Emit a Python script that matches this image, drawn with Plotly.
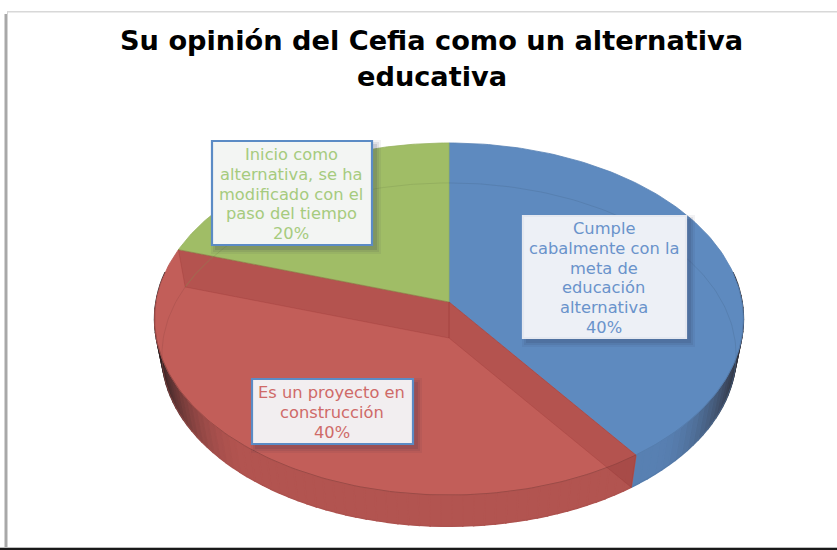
import numpy as np
import plotly.graph_objects as go

# Data
categories = ["Cumple<br>cabalmente con la<br>meta de<br>educación<br>alternativa",
              "Es un proyecto en<br>construcción",
              "Inicio como<br>alternativa, se ha<br>modificado con el<br>paso del tiempo"]
shares = [40, 40, 20]
title_text = "Su opinión del Cefia como un alternativa<br>educativa"

# Styles
face_colors = [(94, 138, 191), (194, 94, 89), (160, 189, 102)]
wall_colors = [(88, 128, 178), (178, 84, 80), (150, 175, 95)]
text_colors = ["#6A93CB", "#CF6A68", "#A6CB7E"]
box_fills = ["#EDF0F6", "#F2EEF0", "#F3F5F3"]
box_lines = ["#E4E8F0", "#5B8BC5", "#5B8BC5"]
box_rects = [(523, 216, 686, 338), (252, 379, 413, 444), (212, 141, 372, 245)]

# Perspective geometry of the disc, in page pixels
CX, CY, A, B, K = 449.0, 302.0, 293.0, 174.4, 0.0966
DEPTH, SHRINK = 36.0, 0.975


def rim(theta_deg, lower=False):
    th = np.radians(np.asarray(theta_deg, dtype=float))
    X, Y = np.sin(th), np.cos(th)
    w = 1 + K * Y
    dx, dy = A * X / w, -B * Y / w
    if lower:
        return CX + SHRINK * dx, CY + DEPTH + SHRINK * dy
    return CX + dx, CY + dy


def rgb(c, a=None):
    c = tuple(int(round(v)) for v in c)
    return f"rgb{c}" if a is None else f"rgba({c[0]},{c[1]},{c[2]},{a})"


fig = go.Figure()


def poly(xs, ys, fill, line=None, lw=0.6):
    fig.add_trace(go.Scatter(x=list(xs), y=list(ys), mode="lines", fill="toself",
                             fillcolor=fill, line=dict(color=line or fill, width=lw),
                             hoverinfo="skip", showlegend=False))


def curve(xs, ys, color, lw=1.0):
    fig.add_trace(go.Scatter(x=list(xs), y=list(ys), mode="lines",
                             line=dict(color=color, width=lw),
                             hoverinfo="skip", showlegend=False))


edges = np.concatenate([[0], np.cumsum(shares)]) * 3.6
DARK = np.array((38, 30, 32))

# side walls, darkening towards the silhouette
for i in range(len(shares)):
    t0, t1 = edges[i], edges[i + 1]
    lo, hi = max(t0, 80), min(t1, 280)
    if lo >= hi:
        continue
    steps = np.linspace(lo, hi, int((hi - lo) / 2.0) + 2)
    for a, b in zip(steps[:-1], steps[1:]):
        f = np.clip((abs(np.sin(np.radians((a + b) / 2))) - 0.65) / 0.35, 0, 1) ** 2
        col = np.array(wall_colors[i]) * (1 - f) + DARK * f
        xa, ya = rim([a, b])
        xb, yb = rim([b, a], lower=True)
        poly(np.r_[xa, xb, xa[0]], np.r_[ya, yb, ya[0]], rgb(col), lw=1.6)

# top faces
for i in range(len(shares)):
    th = np.linspace(edges[i], edges[i + 1], 120)
    x, y = rim(th)
    poly(np.r_[CX, x, CX], np.r_[CY, y, CY], rgb(face_colors[i]),
         rgb(np.array(face_colors[i]) * 0.95), 0.8)

# the lower rim seen through the disc
for i in range(len(shares)):
    th = np.linspace(edges[i], edges[i + 1], 120)
    x, y = rim(th, lower=True)
    curve(x, y, rgb(np.array(face_colors[i]) * 0.85, 0.5), 1.0)

# front edge of the top face
th = np.linspace(edges[1], 270, 120)
x, y = rim(th)
curve(x, y, rgb(np.array(face_colors[1]) * 0.8), 1.0)
th = np.linspace(85, edges[1], 60)
x, y = rim(th)
curve(x, y, rgb(np.array(face_colors[0]) * 0.9), 0.8)

# translucent inner walls of the red slice
for edge in (edges[1], edges[2]):
    xt, yt = rim([edge])
    xb, yb = rim([edge], lower=True)
    poly([CX, xt[0], xb[0], CX, CX], [CY, yt[0], yb[0], CY + DEPTH, CY],
         "rgba(140,52,50,0.24)", "rgba(140,40,40,0.25)", 0.8)

shapes = [
    dict(type="rect", x0=4.5, x1=7, y0=14, y1=550, fillcolor="#A8A8A8", line_width=0, layer="above"),
    dict(type="rect", x0=7, x1=8, y0=12, y1=550, fillcolor="#D4D4D4", line_width=0, layer="above"),
    dict(type="rect", x0=7, x1=837, y0=11, y1=12.5, fillcolor="#D8D8D8", line_width=0, layer="above"),
    dict(type="rect", x0=0, x1=837, y0=547, y1=548, fillcolor="#BDBDBD", line_width=0, layer="above"),
    dict(type="rect", x0=0, x1=837, y0=548, y1=550, fillcolor="#1A1A1A", line_width=0, layer="above"),
]
annotations = []


def text_block(text, xc, yc, gap, font):
    lines = text.split("<br>")
    for n, line in enumerate(lines):
        annotations.append(dict(x=xc, y=yc + (n - (len(lines) - 1) / 2) * gap, xref="x", yref="y",
                                text=line, showarrow=False, font=font, align="center",
                                xanchor="center", yanchor="middle"))


title_font = dict(family="DejaVu Sans", size=27.2, color="#000000", weight="bold")
text_block(title_text, 431.5, 58, 36, title_font)

for i, (x0, y0, x1, y1) in enumerate(box_rects):
    for grow, alpha in ((5, 0.06), (3, 0.09), (1, 0.12)):
        shapes.append(dict(type="rect", x0=x0 - grow + 4, x1=x1 + grow + 4,
                           y0=y0 - grow + 4, y1=y1 + grow + 4,
                           fillcolor=f"rgba(40,40,70,{alpha})", line_width=0, layer="above"))
    shapes.append(dict(type="rect", x0=x0, x1=x1, y0=y0, y1=y1, fillcolor=box_fills[i],
                       line=dict(color=box_lines[i], width=2.2), layer="above"))
    text_block(f"{categories[i]}<br>{shares[i]}%", (x0 + x1) / 2 - 1, (y0 + y1) / 2 + 1, 19.8,
               dict(family="DejaVu Sans", size=16.3, color=text_colors[i]))

fig.update_layout(
    width=837, height=550, margin=dict(l=0, r=0, t=0, b=0),
    paper_bgcolor="white", plot_bgcolor="white", showlegend=False,
    xaxis=dict(range=[0, 837], visible=False, fixedrange=True),
    yaxis=dict(range=[550, 0], visible=False, fixedrange=True),
    shapes=shapes, annotations=annotations,
)
fig.write_html("out.html", config={"displayModeBar": False},
               post_script="document.body.style.margin='0';document.body.style.overflow='hidden';")
